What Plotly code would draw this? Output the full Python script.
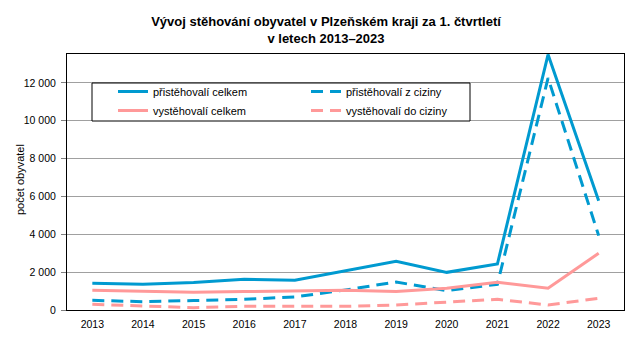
import plotly.graph_objects as go

years = ["2013", "2014", "2015", "2016", "2017", "2018", "2019", "2020", "2021", "2022", "2023"]
prist_celkem = [1410, 1360, 1460, 1620, 1570, 2070, 2580, 1990, 2430, 13500, 5780]
prist_cizina = [510, 440, 500, 565, 690, 1060, 1480, 1020, 1360, 12260, 3930]
vyst_celkem = [1040, 1005, 935, 975, 990, 1040, 975, 1150, 1460, 1150, 3000]
vyst_cizina = [300, 195, 125, 195, 195, 195, 265, 405, 565, 265, 620]

names = ["přistěhovalí celkem", "přistěhovalí z ciziny", "vystěhovalí celkem", "vystěhovalí do ciziny"]
series = [prist_celkem, prist_cizina, vyst_celkem, vyst_cizina]
colors = ["#009AD0", "#009AD0", "#FF9999", "#FF9999"]
dashes = ["solid", "12px,7px", "solid", "12px,7px"]

fig = go.Figure()
for n, s, c, d in zip(names, series, colors, dashes):
    fig.add_trace(go.Scatter(x=years, y=s, name=n, mode="lines",
                             line=dict(color=c, width=3, dash=d)))

W, H = 639, 344
L, R, T, B = 67, 15, 54, 34
pw, ph = W - L - R, H - T - B

def px(x):
    return (x - L) / pw

def py(y):
    return (H - B - y) / ph

fig.add_shape(type="rect", xref="paper", yref="paper",
              x0=px(92), x1=px(470), y0=py(121), y1=py(83),
              line=dict(color="black", width=1), fillcolor="white", layer="above")

fig.add_annotation(text="počet obyvatel", xref="paper", yref="paper",
                   x=px(20), y=py(180), xanchor="center", yanchor="middle",
                   textangle=-90, showarrow=False, font=dict(size=11, color="black"))

fig.update_layout(
    width=W, height=H,
    margin=dict(l=L, r=R, t=T, b=B),
    paper_bgcolor="white", plot_bgcolor="white",
    font=dict(family="Liberation Sans, Arial", size=11, color="black"),
    separators=", ",
    title=dict(text="<b>Vývoj stěhování obyvatel v Plzeňském kraji za 1. čtvrtletí<br>v letech 2013–2023</b>",
               x=326 / W, xanchor="center", xref="container",
               y=1 - 26 / H, yanchor="middle", yref="container",
               font=dict(family="Liberation Sans, Arial", size=13, color="black")),
    showlegend=True,
    legend=dict(orientation="h", x=px(113), y=py(77), xanchor="left", yanchor="top",
                xref="paper", yref="paper",
                bgcolor="rgba(0,0,0,0)", borderwidth=0,
                entrywidth=148, entrywidthmode="pixels",
                font=dict(size=11), traceorder="normal", tracegroupgap=0),
    xaxis=dict(type="category", showgrid=False, showline=True, linecolor="black", linewidth=1,
               mirror=True, ticks="", tickfont=dict(size=10.5), range=[-0.5, 10.5],
               ticklabelstandoff=4, automargin=False),
    yaxis=dict(range=[0, 13530], tickvals=[0, 2000, 4000, 6000, 8000, 10000, 12000],
               tickformat=",d", showgrid=True, gridcolor="#A0A0A0", gridwidth=1,
               showline=True, linecolor="black", linewidth=1, mirror=True,
               ticks="outside", ticklen=5, tickcolor="#808080",
               zeroline=False, tickfont=dict(size=10.5), ticklabelstandoff=3,
               automargin=False),
)

fig.write_html("out.html")
